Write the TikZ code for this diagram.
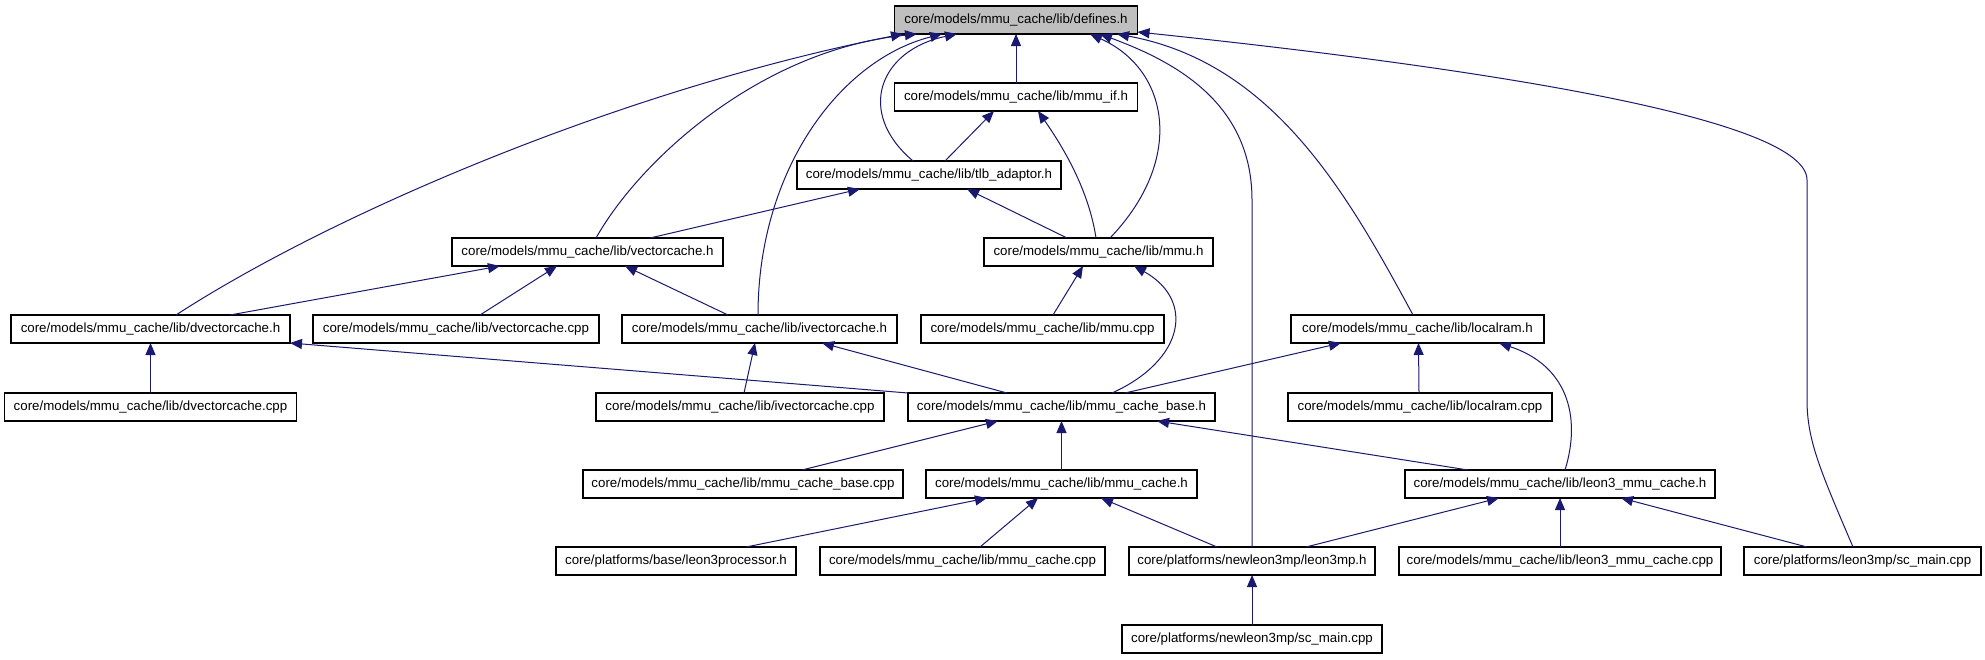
\documentclass[tikz,border=0pt]{standalone}
\usepackage{fontspec}
\setmainfont{Liberation Sans}
\usepackage{tikz}
\usetikzlibrary{arrows.meta}
\definecolor{EdgeBlue}{HTML}{191970}
\definecolor{RootGray}{HTML}{BFBFBF}

\begin{document}
\begin{tikzpicture}[x=1pt,y=-1pt,
  file/.style={draw=black,line width=1.2pt,fill=white,inner sep=0pt,outer sep=0pt,
    minimum height=28pt,font=\fontsize{13.3}{16}\selectfont},
  root/.style={file,fill=RootGray},
  incl/.style={EdgeBlue,line width=1pt,-{Triangle[length=12pt,width=10pt]}}]
  \useasboundingbox[fill=white] (0,0) rectangle (1985,659);
  % files
  \node[root,minimum width=243] (defines) at (1016,20) {core/models/mmu\_cache/lib/defines.h};
  \node[file,minimum width=243] (mmuif) at (1016,97) {core/models/mmu\_cache/lib/mmu\_if.h};
  \node[file,minimum width=264] (tlb) at (929,175) {core/models/mmu\_cache/lib/tlb\_adaptor.h};
  \node[file,minimum width=271] (vch) at (587.5,252) {core/models/mmu\_cache/lib/vectorcache.h};
  \node[file,minimum width=229] (mmuh) at (1098.5,252) {core/models/mmu\_cache/lib/mmu.h};
  \node[file,minimum width=279] (dvch) at (150.5,329) {core/models/mmu\_cache/lib/dvectorcache.h};
  \node[file,minimum width=286] (vccpp) at (456,329) {core/models/mmu\_cache/lib/vectorcache.cpp};
  \node[file,minimum width=275] (ivch) at (759.5,329) {core/models/mmu\_cache/lib/ivectorcache.h};
  \node[file,minimum width=243] (mmucpp) at (1042.5,329) {core/models/mmu\_cache/lib/mmu.cpp};
  \node[file,minimum width=253] (lramh) at (1417.5,329) {core/models/mmu\_cache/lib/localram.h};
  \node[file,minimum width=292] (dvccpp) at (150.5,407) {core/models/mmu\_cache/lib/dvectorcache.cpp};
  \node[file,minimum width=288] (ivccpp) at (740,407) {core/models/mmu\_cache/lib/ivectorcache.cpp};
  \node[file,minimum width=307] (baseh) at (1061.5,407) {core/models/mmu\_cache/lib/mmu\_cache\_base.h};
  \node[file,minimum width=264] (lramcpp) at (1420,407) {core/models/mmu\_cache/lib/localram.cpp};
  \node[file,minimum width=320] (basecpp) at (743,484) {core/models/mmu\_cache/lib/mmu\_cache\_base.cpp};
  \node[file,minimum width=271] (cacheh) at (1061.5,484) {core/models/mmu\_cache/lib/mmu\_cache.h};
  \node[file,minimum width=310] (l3cacheh) at (1560,484) {core/models/mmu\_cache/lib/leon3\_mmu\_cache.h};
  \node[file,minimum width=240] (l3proc) at (676,561) {core/platforms/base/leon3processor.h};
  \node[file,minimum width=285] (cachecpp) at (962.5,561) {core/models/mmu\_cache/lib/mmu\_cache.cpp};
  \node[file,minimum width=246] (nl3mph) at (1252,561) {core/platforms/newleon3mp/leon3mp.h};
  \node[file,minimum width=322] (l3cachecpp) at (1560,561) {core/models/mmu\_cache/lib/leon3\_mmu\_cache.cpp};
  \node[file,minimum width=237] (l3scmain) at (1862.5,561) {core/platforms/leon3mp/sc\_main.cpp};
  \node[file,minimum width=260] (nl3scmain) at (1252,639) {core/platforms/newleon3mp/sc\_main.cpp};
  % includes of defines.h
  \draw[incl] ([xshift=25.5]dvch.north) .. controls (330,215) and (620,90) .. ([xshift=-113]defines.south);
  \draw[incl] ([xshift=8.5]vch.north) .. controls (640,160) and (760,50) .. ([xshift=-99]defines.south);
  \draw[incl] ([xshift=-1.5]ivch.north) .. controls (758,170) and (840,60) .. ([xshift=-74]defines.south);
  \draw[incl] ([xshift=-16]tlb.north) .. controls (855,112) and (880,50) .. ([xshift=-59]defines.south);
  \draw[incl] (mmuif) -- (defines);
  \draw[incl] ([xshift=11.5]mmuh.north) .. controls (1185,160) and (1170,70) .. ([xshift=74]defines.south);
  \draw[incl] (nl3mph.north) -- (1252,200) .. controls (1252,100) and (1170,60) .. ([xshift=84]defines.south);
  \draw[incl] ([xshift=-4.5]lramh.north) .. controls (1348,195) and (1274,63) .. ([xshift=101]defines.south);
  \draw[incl] ([xshift=-9.5]l3scmain.north) .. controls (1820,470) and (1807,440) .. (1807,400)
    -- (1807,180) .. controls (1807,120) and (1500,70) .. ([yshift=-12]defines.east);
  % upper rows
  \draw[incl] ([xshift=16]tlb.north) -- ([xshift=-22]mmuif.south);
  \draw[incl] ([xshift=-2.5]mmuh.north) .. controls (1088,185) and (1058,140) .. ([xshift=22]mmuif.south);
  \draw[incl] ([xshift=62.5]vch.north) -- ([xshift=-69]tlb.south);
  \draw[incl] ([xshift=-31.5]mmuh.north) -- ([xshift=38]tlb.south);
  \draw[incl] ([xshift=79.5]dvch.north) -- ([xshift=-87.5]vch.south);
  \draw[incl] ([xshift=24]vccpp.north) -- ([xshift=-30.5]vch.south);
  \draw[incl] ([xshift=-31.5]ivch.north) -- ([xshift=37.5]vch.south);
  \draw[incl] ([xshift=10.5]mmucpp.north) -- ([xshift=-15.5]mmuh.south);
  \draw[incl] ([xshift=50.5]baseh.north) .. controls (1185,360) and (1195,300) .. ([xshift=35.5]mmuh.south);
  % middle rows
  \draw[incl] (dvccpp) -- (dvch);
  \draw[incl] (baseh.north west) -- (dvch.south east);
  \draw[incl] ([xshift=4]ivccpp.north) -- ([xshift=-4.5]ivch.south);
  \draw[incl] ([xshift=-54.5]baseh.north) -- ([xshift=62.5]ivch.south);
  \draw[incl] ([xshift=63.5]baseh.north) -- ([xshift=-76.5]lramh.south);
  \draw[incl] ([xshift=-1]lramcpp.north) -- ([xshift=1]lramh.south);
  \draw[incl] ([xshift=5]l3cacheh.north) .. controls (1582,415) and (1566,365) .. ([xshift=81.5]lramh.south);
  \draw[incl] ([xshift=59]basecpp.north) -- ([xshift=-63.5]baseh.south);
  \draw[incl] (cacheh) -- (baseh);
  \draw[incl] ([xshift=-92]l3cacheh.north) -- ([xshift=95.5]baseh.south);
  % lower rows
  \draw[incl] ([xshift=70]l3proc.north) -- ([xshift=-74.5]cacheh.south);
  \draw[incl] ([xshift=17.5]cachecpp.north) -- ([xshift=-23.5]cacheh.south);
  \draw[incl] ([xshift=-35]nl3mph.north) -- ([xshift=39.5]cacheh.south);
  \draw[incl] ([xshift=54]nl3mph.north) -- ([xshift=-61]l3cacheh.south);
  \draw[incl] (l3cachecpp) -- (l3cacheh);
  \draw[incl] ([xshift=-55.5]l3scmain.north) -- ([xshift=61]l3cacheh.south);
  \draw[incl] (nl3scmain) -- (nl3mph);
\end{tikzpicture}
\end{document}
